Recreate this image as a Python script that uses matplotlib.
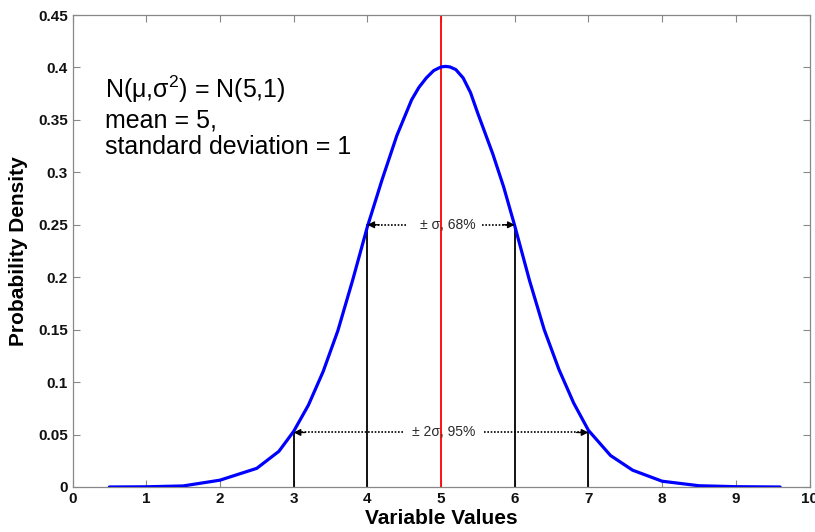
import matplotlib
matplotlib.use("Agg")
import matplotlib.pyplot as plt

plt.rcParams['font.family'] = ['Liberation Sans', 'DejaVu Sans']

# density curve of N(5, 1), sampled points
x_vals = [0.5, 1.0, 1.5, 2.0, 2.5, 2.8, 3.0, 3.2, 3.4, 3.6, 3.8, 4.0, 4.2,
          4.4, 4.6, 4.7, 4.8, 4.9, 5.0, 5.06, 5.12, 5.2, 5.3, 5.4, 5.5, 5.7,
          5.85, 6.0, 6.2, 6.4, 6.6, 6.8, 7.0, 7.3, 7.6, 8.0, 8.5, 9.0, 9.6]
y_vals = [0.0000, 0.0002, 0.0010, 0.0065, 0.0178, 0.034, 0.053, 0.078, 0.110,
          0.149, 0.197, 0.248, 0.293, 0.335, 0.369, 0.381, 0.390, 0.397,
          0.4005, 0.401, 0.4005, 0.398, 0.390, 0.376, 0.356, 0.318, 0.286,
          0.249, 0.197, 0.150, 0.112, 0.080, 0.054, 0.030, 0.016, 0.0055,
          0.0012, 0.0003, 0.0000]

mean = 5
sigma_bounds = [4, 6]
sigma_level = 0.25
two_sigma_bounds = [3, 7]
two_sigma_level = 0.052

x_ticks = [0, 1, 2, 3, 4, 5, 6, 7, 8, 9, 10]
y_ticks = [0, 0.05, 0.1, 0.15, 0.2, 0.25, 0.3, 0.35, 0.4, 0.45]
y_tick_labels = ['0', '0.05', '0.1', '0.15', '0.2', '0.25', '0.3', '0.35', '0.4', '0.45']

fig = plt.figure(figsize=(8.15, 5.32), dpi=100)
ax = fig.add_axes([0.089, 0.0846, 0.9043, 0.8872])

ax.plot(x_vals, y_vals, color='#0000ff', lw=2.3, zorder=3,
        solid_joinstyle='round', solid_capstyle='round')
ax.axvline(mean, color='#ff0000', lw=1.3, zorder=2)

# vertical markers at one and two standard deviations
for xv in sigma_bounds:
    ax.plot([xv, xv], [0, sigma_level], color='k', lw=1.3, zorder=2)
for xv in two_sigma_bounds:
    ax.plot([xv, xv], [0, two_sigma_level], color='k', lw=1.3, zorder=2)


def range_arrow(x0, x1, y, gap_left, gap_right, text_x, label):
    ax.plot([gap_left, x0 + 0.1], [y, y], color='k', lw=1.2, ls=(0, (1, 1)), zorder=4)
    ax.plot([gap_right, x1 - 0.1], [y, y], color='k', lw=1.2, ls=(0, (1, 1)), zorder=4)
    ax.annotate('', xy=(x0, y), xytext=(x0 + 0.16, y),
                arrowprops=dict(arrowstyle='-|>', color='k', lw=1.0,
                                mutation_scale=10, shrinkA=0, shrinkB=0), zorder=5)
    ax.annotate('', xy=(x1, y), xytext=(x1 - 0.16, y),
                arrowprops=dict(arrowstyle='-|>', color='k', lw=1.0,
                                mutation_scale=10, shrinkA=0, shrinkB=0), zorder=5)
    ax.text(text_x, y, label, ha='center', va='center',
            fontsize=10, color='#2a2a2a', zorder=6)


range_arrow(sigma_bounds[0], sigma_bounds[1], sigma_level, 4.53, 5.55, 5.095, '± σ, 68%')
range_arrow(two_sigma_bounds[0], two_sigma_bounds[1], two_sigma_level, 4.48, 5.58, 5.03, '± 2σ, 95%')

ax.text(0.44, 0.371, 'N(μ,σ$\\mathregular{^2}$) = N(5,1)', fontsize=18,
        va='baseline', ha='left')
ax.text(0.44, 0.343, 'mean = 5,', fontsize=18, va='baseline', ha='left')
ax.text(0.44, 0.3175, 'standard deviation = 1', fontsize=18, va='baseline', ha='left')

ax.set_xlim(0, 10)
ax.set_ylim(0, 0.45)
ax.set_xticks(x_ticks)
ax.set_yticks(y_ticks)
ax.set_yticklabels(y_tick_labels)
ax.tick_params(direction='in', top=True, right=True, length=5, width=0.8,
               colors='#888888', labelcolor='#111111', labelsize=11)
for lbl in ax.get_xticklabels() + ax.get_yticklabels():
    lbl.set_fontweight('bold')
for sp in ax.spines.values():
    sp.set_color('#888888')
    sp.set_linewidth(0.9)

ax.set_xlabel('Variable Values', fontsize=15, fontweight='bold', labelpad=2)
ax.set_ylabel('Probability Density', fontsize=15, fontweight='bold', labelpad=7)

fig.savefig('out.png', dpi=100)
